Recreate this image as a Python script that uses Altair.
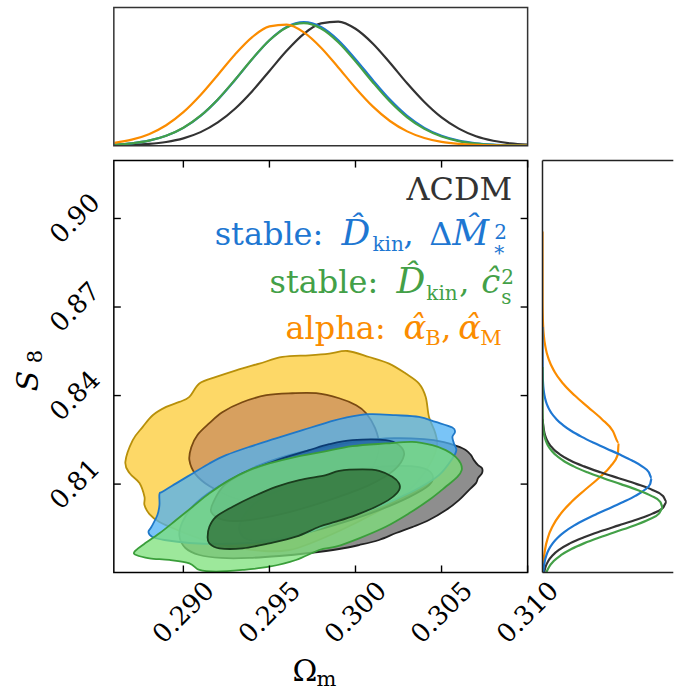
import altair as alt
import pandas as pd

FONT = "DejaVu Serif"

# ---------------------------------------------------------------- ranges
OM_DOMAIN = [0.28596, 0.31000]
S8_DOMAIN = [0.78006, 0.91962]

W_MAIN, H_MAIN = 414.4, 412.5
H_TOP = 138.4
W_SIDE = 131
GAP = 14.3
TOP_MAX = 1.11
SIDE_MAX = 1.053

om_ticks = [0.290, 0.295, 0.300, 0.305, 0.310]
s8_ticks = [0.81, 0.84, 0.87, 0.90]

# ---------------------------------------------------------------- 1D marginals: Omega_m
om_grid = [0.286, 0.287, 0.288, 0.289, 0.290, 0.291, 0.292, 0.293, 0.294, 0.295,
           0.296, 0.297, 0.298, 0.299, 0.300, 0.301, 0.302, 0.303, 0.304, 0.305,
           0.306, 0.307, 0.308, 0.309, 0.310]
top_lcdm = [0.0024, 0.006, 0.014, 0.030, 0.059, 0.109, 0.187, 0.297, 0.438, 0.600,
            0.762, 0.898, 0.982, 0.997, 0.939, 0.821, 0.666, 0.501, 0.351, 0.227,
            0.137, 0.076, 0.040, 0.019, 0.0085]
top_stable_m = [0.0084, 0.0192, 0.0406, 0.0794, 0.1435, 0.2398, 0.3701, 0.5277, 0.6955, 0.8472,
                0.9536, 0.992, 0.9536, 0.8472, 0.6955, 0.5277, 0.3701, 0.2398, 0.1435, 0.0794,
                0.0406, 0.0192, 0.0084, 0.0034, 0.0013]
top_stable_c = [0.0083, 0.0191, 0.0405, 0.0795, 0.1441, 0.2408, 0.3719, 0.5296, 0.697, 0.8467,
                0.950, 0.984, 0.9407, 0.8308, 0.6773, 0.5097, 0.3543, 0.2273, 0.1348, 0.0737,
                0.0372, 0.0173, 0.0074, 0.0030, 0.0011]
top_alpha = [0.0232, 0.0483, 0.0928, 0.1646, 0.2695, 0.4073, 0.5685, 0.7327, 0.8719, 0.9583,
             0.972, 0.9105, 0.7874, 0.6286, 0.4636, 0.3155, 0.1984, 0.1151, 0.0617, 0.0305,
             0.014, 0.0059, 0.0023, 0.0008, 0.0003]

# ---------------------------------------------------------------- 1D marginals: S8
side_s8_lcdm = [0.780, 0.782, 0.784, 0.786, 0.788, 0.790, 0.792, 0.794, 0.796, 0.798,
                0.800, 0.802, 0.804, 0.806, 0.808, 0.810, 0.812, 0.814, 0.816, 0.818,
                0.820, 0.822, 0.824, 0.826, 0.828, 0.830, 0.832]
side_lcdm = [0.0124, 0.025, 0.0474, 0.0847, 0.142, 0.2245, 0.3338, 0.4666, 0.6139, 0.7602,
             0.8852, 0.970, 1.0, 0.970, 0.8852, 0.7602, 0.6139, 0.4666, 0.3338, 0.2245,
             0.142, 0.0847, 0.0474, 0.025, 0.0124, 0.0058, 0.0]
side_s8_stable_c = [0.780, 0.782, 0.784, 0.786, 0.788, 0.790, 0.792, 0.794, 0.796, 0.798,
                    0.800, 0.802, 0.804, 0.806, 0.808, 0.810, 0.812, 0.814, 0.816, 0.818,
                    0.820, 0.822, 0.824, 0.826, 0.828, 0.830, 0.834, 0.8497]
side_stable_c = [0.0295, 0.0538, 0.0927, 0.151, 0.2325, 0.3378, 0.4642, 0.6024, 0.7387, 0.856,
                 0.9373, 0.970, 0.948, 0.8756, 0.7643, 0.6302, 0.4911, 0.3615, 0.2515, 0.1654,
                 0.1027, 0.0603, 0.0335, 0.0175, 0.0087, 0.004, 0.0007, 0.0]
side_s8_stable_m = [0.780, 0.782, 0.784, 0.786, 0.788, 0.790, 0.792, 0.794, 0.796, 0.798,
                    0.800, 0.802, 0.804, 0.806, 0.808, 0.810, 0.812, 0.814, 0.816, 0.818,
                    0.820, 0.822, 0.824, 0.826, 0.828, 0.830, 0.832, 0.834, 0.836, 0.838,
                    0.840, 0.842, 0.844, 0.848, 0.8632]
side_stable_m = [0.0058, 0.0107, 0.019, 0.0324, 0.053, 0.0835, 0.1263, 0.1835, 0.2563, 0.344,
                 0.4435, 0.5494, 0.6535, 0.7472, 0.821, 0.8664, 0.879, 0.856, 0.8014, 0.7208,
                 0.6229, 0.5171, 0.4125, 0.3162, 0.2328, 0.1647, 0.112, 0.0731, 0.0459, 0.0277,
                 0.016, 0.0089, 0.0048, 0.0012, 0.0]
side_s8_alpha = [0.780, 0.784, 0.788, 0.792, 0.796, 0.800, 0.804, 0.808, 0.812, 0.816,
                 0.820, 0.824, 0.828, 0.832, 0.836, 0.840, 0.844, 0.848, 0.852, 0.856,
                 0.860, 0.864, 0.868, 0.872, 0.8956]
side_alpha = [0.0037, 0.0093, 0.0213, 0.0445, 0.0848, 0.1475, 0.2345, 0.3406, 0.4518, 0.5476,
              0.6062, 0.613, 0.5664, 0.4782, 0.3687, 0.2597, 0.167, 0.0982, 0.0527, 0.0259,
              0.0116, 0.0048, 0.0018, 0.0006, 0.0]

# ---------------------------------------------------------------- 2D contours (68% / 95%)
alpha_outer_om = [0.28663, 0.28706, 0.28764, 0.28822, 0.28900, 0.28977, 0.29035, 0.29093, 0.29190, 0.29306,
                  0.29441, 0.29576, 0.29731, 0.29847, 0.29953, 0.30079, 0.30195, 0.30292, 0.30369, 0.30408,
                  0.30427, 0.30462, 0.30474, 0.30439, 0.30358, 0.30242, 0.30091, 0.29917, 0.29743, 0.29615,
                  0.29470, 0.29296, 0.29122, 0.28965, 0.28861, 0.28803, 0.28774, 0.28774, 0.28745, 0.28687]
alpha_outer_s8 = [0.81754, 0.82489, 0.82938, 0.83334, 0.83615, 0.83784, 0.83953, 0.84407, 0.84630, 0.84857,
                  0.85083, 0.85307, 0.85364, 0.85422, 0.85510, 0.85307, 0.85083, 0.84745, 0.84407, 0.83953,
                  0.83277, 0.82759, 0.82319, 0.81744, 0.81068, 0.80459, 0.79951, 0.79444, 0.79004, 0.78767,
                  0.78733, 0.78869, 0.79106, 0.79444, 0.79714, 0.79985, 0.80290, 0.80570, 0.81034, 0.81372]
alpha_inner_om = [0.29035, 0.29046, 0.29081, 0.29151, 0.29226, 0.29342, 0.29482, 0.29632, 0.29772, 0.29905,
                  0.30004, 0.30062, 0.30114, 0.30137, 0.30114, 0.30050, 0.29934, 0.29789, 0.29615, 0.29441,
                  0.29278, 0.29151, 0.29070]
alpha_inner_s8 = [0.81812, 0.82252, 0.82658, 0.83064, 0.83436, 0.83774, 0.84011, 0.84079, 0.84079, 0.83909,
                  0.83673, 0.83402, 0.82894, 0.82319, 0.81744, 0.81203, 0.80729, 0.80391, 0.80256, 0.80323,
                  0.80560, 0.80932, 0.81338]

lcdm_outer_om = [0.30590, 0.30642, 0.30671, 0.30688, 0.30712, 0.30735, 0.30735, 0.30712, 0.30700, 0.30659,
                 0.30601, 0.30526, 0.30427, 0.30329, 0.30236, 0.30137, 0.30021, 0.29905, 0.29731, 0.29557,
                 0.29383, 0.29220, 0.29093, 0.29012, 0.28977, 0.28994, 0.29046, 0.29139, 0.29267, 0.29429,
                 0.29615, 0.29818, 0.30021, 0.30224, 0.30398, 0.30514]
lcdm_outer_s8 = [0.82286, 0.82150, 0.81981, 0.81812, 0.81643, 0.81541, 0.81372, 0.81203, 0.81034, 0.80797,
                 0.80459, 0.80120, 0.79782, 0.79545, 0.79342, 0.79106, 0.78936, 0.78801, 0.78666, 0.78564,
                 0.78497, 0.78497, 0.78598, 0.78835, 0.79241, 0.79714, 0.80188, 0.80662, 0.81135, 0.81609,
                 0.81981, 0.82252, 0.82455, 0.82556, 0.82522, 0.82421]
lcdm_inner_om = [0.29325, 0.29354, 0.29441, 0.29586, 0.29760, 0.29963, 0.30195, 0.30369, 0.30445, 0.30427,
                 0.30311, 0.30137, 0.29934, 0.29731, 0.29528, 0.29383]
lcdm_inner_s8 = [0.79444, 0.79951, 0.80459, 0.80865, 0.81203, 0.81474, 0.81609, 0.81575, 0.81338, 0.80966,
                 0.80560, 0.80120, 0.79714, 0.79376, 0.79139, 0.79106]

stable_m_outer_om = [0.28797, 0.28814, 0.28849, 0.28861, 0.28861, 0.28878, 0.28958, 0.29054, 0.29151, 0.29248,
                     0.29383, 0.29538, 0.29692, 0.29847, 0.29944, 0.30079, 0.30234, 0.30369, 0.30466, 0.30563,
                     0.30578, 0.30563, 0.30572, 0.30586, 0.30563, 0.30485, 0.30369, 0.30224, 0.30079, 0.29905,
                     0.29731, 0.29557, 0.29383, 0.29209, 0.29035, 0.28890, 0.28820]
stable_m_outer_s8 = [0.79376, 0.79545, 0.79951, 0.80290, 0.80662, 0.80740, 0.81024, 0.81362, 0.81700, 0.81981,
                     0.82262, 0.82546, 0.82827, 0.83108, 0.83256, 0.83368, 0.83334, 0.83277, 0.83108, 0.82918,
                     0.82769, 0.82600, 0.82377, 0.82150, 0.81869, 0.81304, 0.80865, 0.80459, 0.80120, 0.79782,
                     0.79376, 0.79106, 0.79004, 0.78970, 0.79004, 0.79106, 0.79207]
stable_m_inner_om = [0.29238, 0.29344, 0.29441, 0.29576, 0.29731, 0.29847, 0.29982, 0.30176, 0.30253, 0.30282,
                     0.30224, 0.30079, 0.29847, 0.29615, 0.29383, 0.29238, 0.29162, 0.29180]
stable_m_inner_s8 = [0.80966, 0.81362, 0.81585, 0.81869, 0.82150, 0.82353, 0.82489, 0.82489, 0.82319, 0.81981,
                     0.81474, 0.80966, 0.80459, 0.80053, 0.79782, 0.79782, 0.80053, 0.80459]

stable_c_outer_om = [0.28716, 0.28764, 0.28861, 0.28958, 0.29054, 0.29151, 0.29267, 0.29383, 0.29499, 0.29654,
                     0.29808, 0.29982, 0.30176, 0.30330, 0.30446, 0.30524, 0.30582, 0.30611, 0.30617, 0.30592,
                     0.30524, 0.30427, 0.30311, 0.30176, 0.30021, 0.29886, 0.29789, 0.29654, 0.29499, 0.29344,
                     0.29190, 0.29093, 0.29035, 0.28919, 0.28803, 0.28726]
stable_c_outer_s8 = [0.78710, 0.78936, 0.79332, 0.79782, 0.80232, 0.80685, 0.81135, 0.81474, 0.81700, 0.81924,
                     0.82093, 0.82286, 0.82377, 0.82431, 0.82319, 0.82150, 0.81924, 0.81700, 0.81474, 0.81247,
                     0.80909, 0.80459, 0.80009, 0.79555, 0.79163, 0.78879, 0.78767, 0.78429, 0.78202, 0.78091,
                     0.78033, 0.78091, 0.78317, 0.78429, 0.78486, 0.78598]
stable_c_inner_om = [0.29141, 0.29151, 0.29190, 0.29286, 0.29402, 0.29538, 0.29673, 0.29828, 0.29905, 0.30040,
                     0.30137, 0.30214, 0.30253, 0.30253, 0.30205, 0.30118, 0.30002, 0.29886, 0.29789, 0.29654,
                     0.29499, 0.29344, 0.29209, 0.29151]
stable_c_inner_s8 = [0.79217, 0.79555, 0.79894, 0.80232, 0.80570, 0.80909, 0.81135, 0.81304, 0.81450, 0.81497,
                     0.81450, 0.81247, 0.81024, 0.80797, 0.80516, 0.80232, 0.79951, 0.79725, 0.79555, 0.79217,
                     0.78994, 0.78825, 0.78825, 0.78994]

# ---------------------------------------------------------------- styling
line_color = {"lcdm": "#333333", "stable_m": "#1e77d2", "stable_c": "#43a047", "alpha": "#fb8c00"}

# (om, s8, fill, fill opacity, stroke) in drawing order, bottom first
contour_specs = [
    (alpha_outer_om, alpha_outer_s8, "#fccb34", 0.75, "#b8900a"),
    (alpha_inner_om, alpha_inner_s8, "#c98d5c", 0.75, "#7a4a12"),
    (lcdm_outer_om, lcdm_outer_s8, "#686868", 0.75, "#222222"),
    (lcdm_inner_om, lcdm_inner_s8, "#333333", 0.75, "#111111"),
    (stable_m_outer_om, stable_m_outer_s8, "#4cb0f4", 0.75, "#1f78c8"),
    (stable_m_inner_om, stable_m_inner_s8, "#1d5f9e", 0.75, "#0b3b72"),
    (stable_c_outer_om, stable_c_outer_s8, "#7ce07a", 0.75, "#3a9e3a"),
    (stable_c_inner_om, stable_c_inner_s8, "#2e6e35", 0.75, "#1a3d1d"),
]

xs = alt.Scale(domain=OM_DOMAIN, nice=False, zero=False)
ys = alt.Scale(domain=S8_DOMAIN, nice=False, zero=False)
ax_x = alt.Axis(values=om_ticks, format=".3f", labelAngle=-45, labelAlign="center",
                labelBaseline="middle", labelPadding=40, labelFont=FONT, labelFontSize=26,
                labelColor="black", labelOverlap=False, labelFlush=False,
                ticks=False, tickSize=0, domain=False, grid=False, title=None)
ax_y = alt.Axis(values=s8_ticks, format=".2f", labelAngle=-45, labelAlign="center",
                labelBaseline="middle", labelPadding=39, labelFont=FONT, labelFontSize=26,
                labelColor="black", labelOverlap=False, labelFlush=False,
                ticks=False, tickSize=0, domain=False, grid=False, title=None)

one = pd.DataFrame({"k": [0]})


def piece(txt, x, y, size, color, italic=False, align="left", angle=0, line_height=None):
    kw = dict(text=txt, font=FONT, fontSize=size, color=color, align=align, baseline="alphabetic")
    if italic:
        kw["fontStyle"] = "italic"
    if angle:
        kw["angle"] = angle
    if line_height:
        kw["lineHeight"] = line_height
    return alt.Chart(one).mark_text(**kw).encode(x=alt.value(x), y=alt.value(y))


def contour(om, s8, fill, op, stroke):
    df = pd.DataFrame({"om": om, "s8": s8, "i": list(range(len(om)))})
    return alt.Chart(df).mark_line(
        interpolate="cardinal-closed", fill=fill, fillOpacity=op, stroke=stroke,
        strokeWidth=1.8, clip=True
    ).encode(
        x=alt.X("om:Q", scale=xs, axis=ax_x),
        y=alt.Y("s8:Q", scale=ys, axis=ax_y),
        order="i:Q",
    )


layers = [contour(*spec) for spec in contour_specs]

# inward ticks on all four sides
xt = pd.DataFrame({"om": om_ticks})
yt = pd.DataFrame({"s8": s8_ticks})
tick_style = dict(color="black", strokeWidth=1.4)
layers += [
    alt.Chart(xt).mark_rule(**tick_style).encode(
        x=alt.X("om:Q", scale=xs, axis=ax_x), y=alt.value(H_MAIN), y2=alt.value(H_MAIN - 7)),
    alt.Chart(xt).mark_rule(**tick_style).encode(
        x=alt.X("om:Q", scale=xs, axis=ax_x), y=alt.value(0), y2=alt.value(7)),
    alt.Chart(yt).mark_rule(**tick_style).encode(
        y=alt.Y("s8:Q", scale=ys, axis=ax_y), x=alt.value(0), x2=alt.value(7)),
    alt.Chart(yt).mark_rule(**tick_style).encode(
        y=alt.Y("s8:Q", scale=ys, axis=ax_y), x=alt.value(W_MAIN - 7), x2=alt.value(W_MAIN)),
]

# legend text; stacked super/subscripts are drawn as one two-line text
c0, c1, c2, c3 = line_color["lcdm"], line_color["stable_m"], line_color["stable_c"], line_color["alpha"]
layers += [
    piece("ΛCDM", 399, 39, 32, c0, align="right"),
    piece("stable:", 101, 85, 32, c1),
    piece("D\u0302", 228, 85, 36, c1, italic=True),
    piece("kin", 259, 91, 20, c1),
    piece(",", 290, 85, 32, c1),
    piece("Δ", 316, 85, 32, c1),
    piece("M\u0302", 339, 85, 36, c1, italic=True),
    piece(["2", "*"], 381, 79, 20, c1, line_height=20.5),
    piece("stable:", 156, 133, 32, c2),
    piece("D\u0302", 283, 133, 36, c2, italic=True),
    piece("kin", 313, 140, 20, c2),
    piece(",", 346, 133, 32, c2),
    piece("c\u0302", 368, 133, 34, c2, italic=True),
    piece(["2", "s"], 388, 124, 20, c2, line_height=20),
    piece("alpha:", 172, 179, 32, c3),
    piece("α\u0302", 290, 179, 34, c3, italic=True),
    piece("B", 312, 185, 21, c3),
    piece(",", 328, 179, 32, c3),
    piece("α\u0302", 345, 179, 34, c3, italic=True),
    piece("M", 367, 185, 21, c3),
]

# axis titles
layers += [
    piece("Ω", 179, 521, 30, "black"),
    piece("m", 203, 526, 21, "black"),
    piece("S", -76, 231, 30, "black", italic=True, angle=270),
    piece("8", -72, 203, 21, "black", angle=270),
]

# frame, plus an invisible marker fixing the left edge of the figure
layers += [
    alt.Chart(one).mark_rect(fillOpacity=0, stroke="black", strokeWidth=1.5).encode(
        x=alt.value(0), x2=alt.value(W_MAIN), y=alt.value(0), y2=alt.value(H_MAIN)),
    alt.Chart(one).mark_rule(strokeWidth=1, opacity=0).encode(
        x=alt.value(-113.8), y=alt.value(200), y2=alt.value(210)),
]

main = alt.layer(*layers).properties(width=W_MAIN, height=H_MAIN)


# ---------------------------------------------------------------- upper 1D panel
def top_curve(vals, color):
    df = pd.DataFrame({"om": om_grid, "p": vals})
    return alt.Chart(df).mark_line(color=color, strokeWidth=2.2, interpolate="monotone", clip=True).encode(
        x=alt.X("om:Q", scale=xs, axis=None),
        y=alt.Y("p:Q", scale=alt.Scale(domain=[0, TOP_MAX], nice=False), axis=None),
    )


top = alt.layer(
    top_curve(top_lcdm, c0),
    top_curve(top_stable_m, c1),
    top_curve(top_stable_c, c2),
    top_curve(top_alpha, c3),
    alt.Chart(one).mark_rect(fillOpacity=0, stroke="#333333", strokeWidth=1.5).encode(
        x=alt.value(0), x2=alt.value(W_MAIN), y=alt.value(0), y2=alt.value(H_TOP)),
    # invisible marker fixing the top edge of the figure
    alt.Chart(one).mark_rule(strokeWidth=1, opacity=0).encode(
        x=alt.value(20), y=alt.value(-6.8), y2=alt.value(0)),
).properties(width=W_MAIN, height=H_TOP)


# ---------------------------------------------------------------- side 1D panel
def side_curve(s8, vals, color):
    df = pd.DataFrame({"s8": s8, "p": vals})
    return alt.Chart(df).mark_line(color=color, strokeWidth=2.2, interpolate="monotone", clip=True).encode(
        x=alt.X("p:Q", scale=alt.Scale(domain=[0, SIDE_MAX], nice=False), axis=None),
        y=alt.Y("s8:Q", scale=ys, axis=None),
        order="s8:Q",
    )


edge = dict(color="#222222", strokeWidth=1.5)
side = alt.layer(
    side_curve(side_s8_alpha, side_alpha, c3),
    side_curve(side_s8_lcdm, side_lcdm, c0),
    side_curve(side_s8_stable_m, side_stable_m, c1),
    side_curve(side_s8_stable_c, side_stable_c, c2),
    alt.Chart(one).mark_rule(**edge).encode(x=alt.value(0), y=alt.value(0), y2=alt.value(H_MAIN)),
    alt.Chart(one).mark_rule(**edge).encode(x=alt.value(0), x2=alt.value(W_SIDE), y=alt.value(0)),
    alt.Chart(one).mark_rule(**edge).encode(x=alt.value(0), x2=alt.value(W_SIDE), y=alt.value(H_MAIN)),
).properties(width=W_SIDE, height=H_MAIN)

blank = alt.Chart(one).mark_rule(opacity=0).encode(
    x=alt.value(60), y=alt.value(60), y2=alt.value(70)).properties(width=W_SIDE, height=H_TOP)

chart = alt.concat(top, blank, main, side, columns=2, spacing=GAP, bounds="flush").properties(
    padding={"left": 0, "top": 0, "right": 0, "bottom": 0},
    background="white",
).configure_view(strokeWidth=0)

chart.save("out.html", embed_options={"renderer": "svg", "actions": False})
